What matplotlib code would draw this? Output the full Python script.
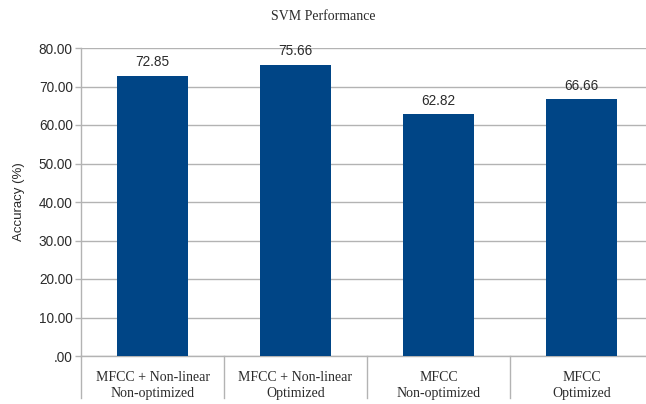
import matplotlib
matplotlib.use("Agg")
import matplotlib.pyplot as plt
from matplotlib.ticker import FuncFormatter, MultipleLocator
import matplotlib.transforms as mtransforms

# SVM accuracy per feature set / optimisation setting
categories = ["MFCC + Non-linear\nNon-optimized", "MFCC + Non-linear\nOptimized",
              "MFCC\nNon-optimized", "MFCC\nOptimized"]
accuracy = [72.85, 75.66, 62.82, 66.66]

bar_color = "#004586"
grid_color = "#b3b3b3"
text_color = "#2b2b2b"

fig = plt.figure(figsize=(6.46, 4.04), dpi=100)
ax = fig.add_axes([81 / 646, 1 - 356 / 404, 572 / 646, 308 / 404])

x = list(range(len(categories)))
ax.bar(x, accuracy, width=0.5, color=bar_color, zorder=3)

# value labels above bars
for xi, v in zip(x, accuracy):
    ax.annotate(f"{v:.2f}", (xi, v), xytext=(0, 4.5), textcoords="offset points",
                ha="center", va="bottom", fontsize=9.8, family="Liberation Sans",
                color=text_color, zorder=4)

ax.set_xlim(-0.5, len(categories) - 0.5)
ax.set_ylim(0, 80)
ax.yaxis.set_major_locator(MultipleLocator(10))
ax.yaxis.set_major_formatter(FuncFormatter(lambda v, p: ".00" if v == 0 else f"{v:.2f}"))
ax.grid(axis="y", color=grid_color, linewidth=1, zorder=0)

ax.set_xticks(x)
ax.set_xticklabels(categories, family="Liberation Serif", fontsize=10, color=text_color,
                   linespacing=1.3)
ax.tick_params(axis="x", length=0, pad=11)
ax.tick_params(axis="y", length=4.5, width=1, color=grid_color, labelsize=9.8,
               labelcolor=text_color, pad=1.5)
for lab in ax.get_yticklabels():
    lab.set_family("Liberation Sans")

for side in ["top", "right"]:
    ax.spines[side].set_visible(False)
for side in ["left", "bottom"]:
    ax.spines[side].set_color(grid_color)
    ax.spines[side].set_linewidth(1)

# category separators below the axis
trans = mtransforms.blended_transform_factory(ax.transData, ax.transAxes)
for b in [-0.5, 0.5, 1.5, 2.5, 3.5]:
    ax.plot([b, b], [0, -42 / 308], transform=trans, color=grid_color,
            linewidth=1, clip_on=False)

ax.set_ylabel("Accuracy (%)", family="Liberation Sans", fontsize=9.5, color=text_color,
              labelpad=10)
fig.text(323 / 646, 1 - 17 / 404, "SVM Performance", ha="center", va="center",
         family="Liberation Serif", fontsize=10, color=text_color)

fig.savefig("out.png", dpi=100)
